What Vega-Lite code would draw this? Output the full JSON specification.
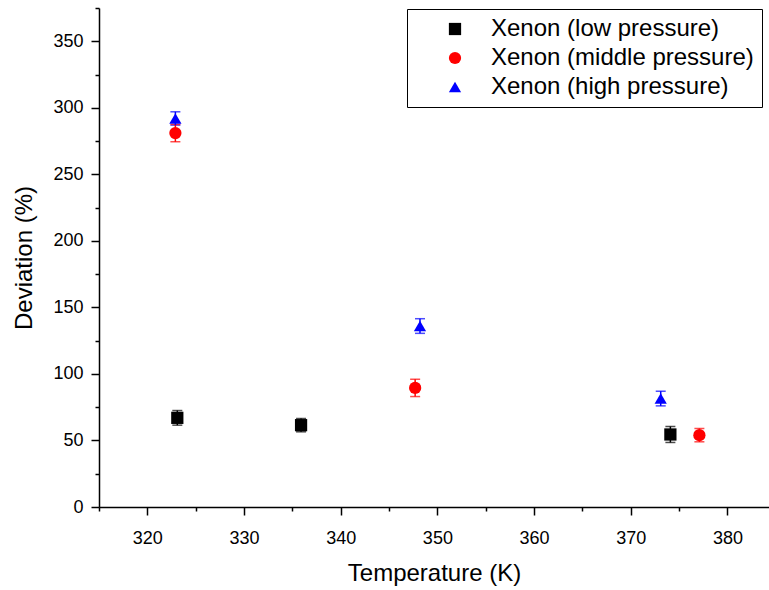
{
  "$schema": "https://vega.github.io/schema/vega-lite/v6.json",
  "width": 670,
  "height": 499,
  "autosize": {"type": "none"},
  "padding": {"left": 99, "top": 8, "right": 0, "bottom": 83},
  "background": "white",
  "config": {
    "view": {"stroke": null},
    "font": "Liberation Sans",
    "axis": {
      "grid": false,
      "domainColor": "black",
      "domainWidth": 1.5,
      "tickColor": "black",
      "tickWidth": 1.5,
      "labelColor": "black",
      "labelFont": "Liberation Sans",
      "labelFontSize": 18,
      "titleColor": "black",
      "titleFont": "Liberation Sans",
      "titleFontSize": 24,
      "titleFontWeight": "normal"
    },
    "legend": {
      "orient": "none",
      "legendX": 308,
      "legendY": 1,
      "strokeColor": "black",
      "fillColor": "white",
      "padding": 8,
      "labelFontSize": 24,
      "labelColor": "black",
      "labelFont": "Liberation Sans",
      "symbolStrokeWidth": 0,
      "symbolOpacity": 1,
      "symbolOffset": 28,
      "labelOffset": 24,
      "rowPadding": 5,
      "labelLimit": 400
    }
  },
  "data": {
    "values": [
      {"series": "Xenon (low pressure)", "T": 323.1, "dev": 67.0, "err": 5.5},
      {"series": "Xenon (low pressure)", "T": 335.9, "dev": 61.5, "err": 5.0},
      {"series": "Xenon (low pressure)", "T": 374.1, "dev": 54.5, "err": 6.0},
      {"series": "Xenon (middle pressure)", "T": 322.9, "dev": 281.0, "err": 6.5},
      {"series": "Xenon (middle pressure)", "T": 347.7, "dev": 89.5, "err": 6.5},
      {"series": "Xenon (middle pressure)", "T": 377.1, "dev": 54.0, "err": 5.0},
      {"series": "Xenon (high pressure)", "T": 322.9, "dev": 292.0, "err": 5.0},
      {"series": "Xenon (high pressure)", "T": 348.2, "dev": 136.0, "err": 5.5},
      {"series": "Xenon (high pressure)", "T": 373.1, "dev": 81.5, "err": 5.5}
    ]
  },
  "encoding": {
    "x": {
      "field": "T",
      "type": "quantitative",
      "scale": {"domain": [315, 384.3], "nice": false, "zero": false},
      "axis": {
        "title": "Temperature (K)",
        "values": [315, 320, 325, 330, 335, 340, 345, 350, 355, 360, 365, 370, 375, 380],
        "format": "d",
        "labelExpr": "datum.value % 10 === 0 ? datum.label : ''",
        "tickSize": {"condition": {"test": "datum.value % 10 === 0", "value": 8}, "value": 4},
        "labelPadding": 14,
        "titlePadding": 14
      }
    },
    "y": {
      "field": "dev",
      "type": "quantitative",
      "scale": {"domain": [0, 375], "nice": false},
      "axis": {
        "title": "Deviation (%)",
        "values": [0, 25, 50, 75, 100, 125, 150, 175, 200, 225, 250, 275, 300, 325, 350, 375],
        "format": "d",
        "labelExpr": "datum.value % 50 === 0 ? datum.label : ''",
        "tickSize": {"condition": {"test": "datum.value % 50 === 0", "value": 8}, "value": 4},
        "labelPadding": 8,
        "titlePadding": 16
      }
    }
  },
  "layer": [
    {
      "mark": {"type": "errorbar", "thickness": 1.5, "ticks": {"size": 10, "thickness": 1.5}},
      "encoding": {
        "yError": {"field": "err"},
        "color": {
          "field": "series",
          "type": "nominal",
          "scale": {
            "domain": ["Xenon (low pressure)", "Xenon (middle pressure)", "Xenon (high pressure)"],
            "range": ["#000000", "#ff0000", "#0000ff"]
          }
        }
      }
    },
    {
      "mark": {"type": "point", "filled": true, "opacity": 1},
      "encoding": {
        "color": {
          "field": "series",
          "type": "nominal",
          "scale": {
            "domain": ["Xenon (low pressure)", "Xenon (middle pressure)", "Xenon (high pressure)"],
            "range": ["#000000", "#ff0000", "#0000ff"]
          },
          "legend": {"title": null}
        },
        "shape": {
          "field": "series",
          "type": "nominal",
          "scale": {
            "domain": ["Xenon (low pressure)", "Xenon (middle pressure)", "Xenon (high pressure)"],
            "range": ["square", "circle", "triangle-up"]
          },
          "legend": {"title": null}
        },
        "size": {
          "field": "series",
          "type": "nominal",
          "scale": {
            "domain": ["Xenon (low pressure)", "Xenon (middle pressure)", "Xenon (high pressure)"],
            "range": [150, 150, 380]
          },
          "legend": {"title": null}
        }
      }
    }
  ]
}
